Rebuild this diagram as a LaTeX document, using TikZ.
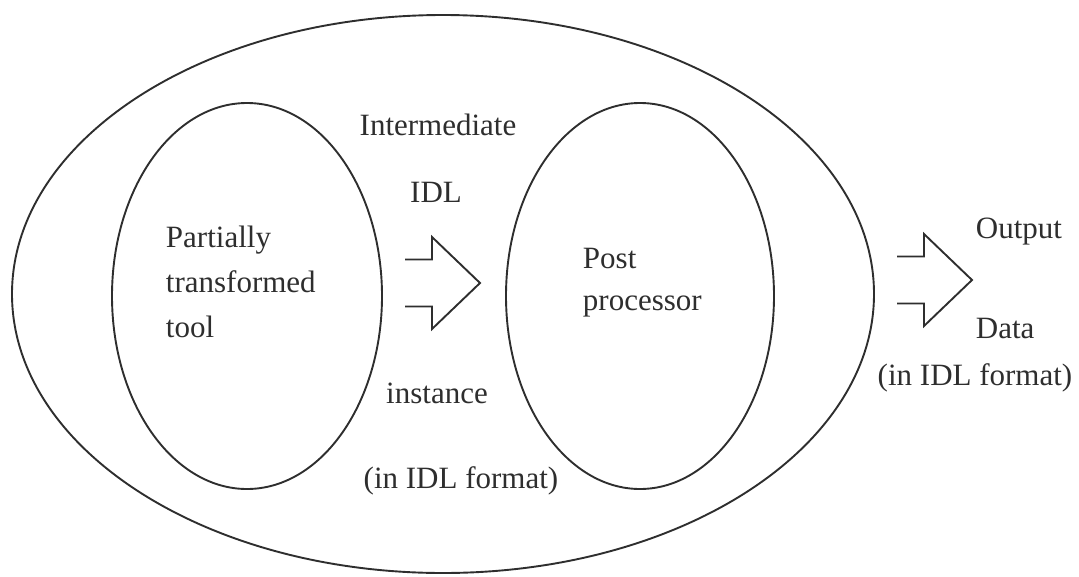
\documentclass[tikz,border=0pt]{standalone}
\usepackage{fontspec}
\setmainfont{Liberation Serif}
\usetikzlibrary{shapes.geometric}
\definecolor{ink}{gray}{0.18}
\begin{document}
\begin{tikzpicture}[x=1pt,y=-1pt,
  line width=1.9pt, draw=ink,
  oval/.style={draw=ink, ellipse, inner sep=0pt},
  lbl/.style={inner sep=0pt, text=ink, font=\fontsize{31}{36}\selectfont},
  openarrow/.pic={
    \draw[ink, line join=miter] (-38,-23.5) -- (-11,-23.5) -- (-11,-46) -- (37,0)
      -- (-11,46) -- (-11,23.5) -- (-38,23.5);
  }]
  \useasboundingbox (0,0) rectangle (1079,576);

  % enclosing system and its two parts
  \node[oval, minimum width=862, minimum height=558] (sys) at (443,294) {};
  \node[oval, minimum width=270, minimum height=386] (tool) at (247,296) {};
  \node[oval, minimum width=268, minimum height=386] (post) at (640,296) {};

  % hand-over arrows
  \pic at (443,283) {openarrow};
  \pic at (935,280) {openarrow};

  % texts
  \node[lbl, anchor=base west] (t1) at (165,247) {Partially};
  \node[lbl, anchor=base west] (t2) at (165,292) {transformed};
  \node[lbl, anchor=base west] (t3) at (165,337) {tool};

  \node[lbl, anchor=base west] (p1) at (582,268) {Post};
  \node[lbl, anchor=base west] (p2) at (582,310) {processor};

  \node[lbl, anchor=base] (m1) at (438,135) {Intermediate};
  \node[lbl, anchor=base] (m2) at (436,202) {IDL};
  \node[lbl, anchor=base] (m3) at (437,403) {instance};
  \node[lbl, anchor=base] (m4) at (461,488) {(in IDL format)};

  \node[lbl, anchor=base west] (o1) at (975,238) {Output};
  \node[lbl, anchor=base west] (o2) at (975,338) {Data};
  \node[lbl, anchor=base] (o3) at (975,385) {(in IDL format)};
\end{tikzpicture}
\end{document}
